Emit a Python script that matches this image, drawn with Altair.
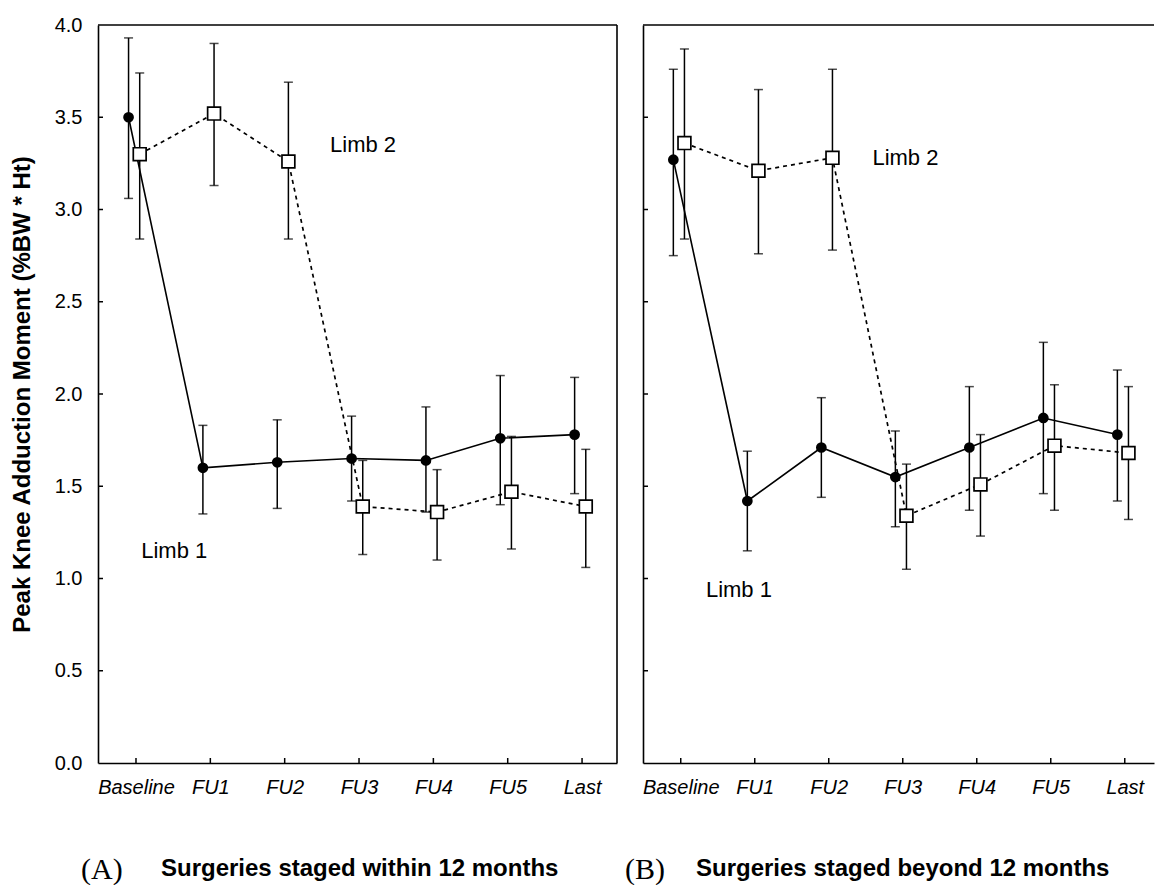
import altair as alt
import pandas as pd

categories = ["Baseline", "FU1", "FU2", "FU3", "FU4", "FU5", "Last"]

# Panel A: surgeries staged within 12 months
a_limb1_mean = [3.50, 1.60, 1.63, 1.65, 1.64, 1.76, 1.78]
a_limb1_low = [3.06, 1.35, 1.38, 1.42, 1.36, 1.40, 1.46]
a_limb1_high = [3.93, 1.83, 1.86, 1.88, 1.93, 2.10, 2.09]
a_limb2_mean = [3.30, 3.52, 3.26, 1.39, 1.36, 1.47, 1.39]
a_limb2_low = [2.84, 3.13, 2.84, 1.13, 1.10, 1.16, 1.06]
a_limb2_high = [3.74, 3.90, 3.69, 1.64, 1.59, 1.77, 1.70]

# Panel B: surgeries staged beyond 12 months
b_limb1_mean = [3.27, 1.42, 1.71, 1.55, 1.71, 1.87, 1.78]
b_limb1_low = [2.75, 1.15, 1.44, 1.28, 1.37, 1.46, 1.42]
b_limb1_high = [3.76, 1.69, 1.98, 1.80, 2.04, 2.28, 2.13]
b_limb2_mean = [3.36, 3.21, 3.28, 1.34, 1.51, 1.72, 1.68]
b_limb2_low = [2.84, 2.76, 2.78, 1.05, 1.23, 1.37, 1.32]
b_limb2_high = [3.87, 3.65, 3.76, 1.62, 1.78, 2.05, 2.04]

y_tick_values = [0.0, 0.5, 1.0, 1.5, 2.0, 2.5, 3.0, 3.5, 4.0]
inner_y_ticks = [0.5, 1.0, 1.5, 2.0, 2.5, 3.0, 3.5]
limb1_offset = -0.10
limb2_offset = 0.05

# annotation positions (x in category units, y in data units)
a_limb_labels = ["Limb 1", "Limb 2"]
a_limb_label_x = [0.07, 2.61]
a_limb_label_y = [1.15, 3.35]
b_limb_labels = ["Limb 1", "Limb 2"]
b_limb_label_x = [0.34, 2.59]
b_limb_label_y = [0.94, 3.28]

panel_letters = ["(A)", "(B)"]
panel_titles = ["Surgeries staged within 12 months", "Surgeries staged beyond 12 months"]

H = 738
SANS = "Liberation Sans"
label_expr = "[" + ",".join("'%s'" % c for c in categories) + "][datum.value]"


def make_panel(m1, l1, h1, m2, l2, h2, xdom, W, first, lab, lab_x, lab_y,
               letter, title, letter_dx, title_dx):
    rows = []
    for i in range(len(categories)):
        rows.append({"limb": "Limb 1", "x": i + limb1_offset, "mean": m1[i], "lo": l1[i], "hi": h1[i]})
    for i in range(len(categories)):
        rows.append({"limb": "Limb 2", "x": i + limb2_offset, "mean": m2[i], "lo": l2[i], "hi": h2[i]})
    df = pd.DataFrame(rows)

    xscale = alt.Scale(domain=xdom, nice=False, zero=False)
    yscale = alt.Scale(domain=[0, 4], nice=False, zero=True)
    xaxis = alt.Axis(values=list(range(len(categories))), labelExpr=label_expr, ticks=False,
                     grid=False, domain=True, domainColor="black", domainWidth=1.6,
                     labelFont=SANS, labelFontSize=20, labelFontStyle="italic",
                     labelColor="black", labelPadding=14, title=None)
    if first:
        yaxis = alt.Axis(values=y_tick_values, format=".1f", ticks=False, grid=False,
                         domain=True, domainColor="black", domainWidth=1.6,
                         labelFont=SANS, labelFontSize=20, labelColor="black",
                         labelPadding=16,
                         title="Peak Knee Adduction Moment (%BW * Ht)",
                         titleFont=SANS, titleFontSize=24, titleFontWeight="bold",
                         titleColor="black", titlePadding=20)
    else:
        yaxis = alt.Axis(values=y_tick_values, ticks=False, grid=False, labels=False,
                         domain=True, domainColor="black", domainWidth=1.6, title=None)

    base = alt.Chart(df)
    X = alt.X("x:Q", scale=xscale, axis=xaxis)

    rules = base.mark_rule(color="black", strokeWidth=1.5).encode(
        x=X, y=alt.Y("lo:Q", scale=yscale, axis=yaxis), y2="hi:Q")
    cap_lo = base.mark_tick(orient="horizontal", color="black", size=9, thickness=1.5).encode(
        x=X, y=alt.Y("lo:Q", scale=yscale, axis=yaxis))
    cap_hi = base.mark_tick(orient="horizontal", color="black", size=9, thickness=1.5).encode(
        x=X, y=alt.Y("hi:Q", scale=yscale, axis=yaxis))
    line1 = base.transform_filter(alt.datum.limb == "Limb 1").mark_line(
        color="black", strokeWidth=1.6).encode(x=X, y=alt.Y("mean:Q", scale=yscale, axis=yaxis))
    line2 = base.transform_filter(alt.datum.limb == "Limb 2").mark_line(
        color="black", strokeWidth=1.7, strokeDash=[4, 4]).encode(
        x=X, y=alt.Y("mean:Q", scale=yscale, axis=yaxis))
    pts1 = base.transform_filter(alt.datum.limb == "Limb 1").mark_point(
        shape="circle", filled=True, color="black", size=115, opacity=1).encode(
        x=X, y=alt.Y("mean:Q", scale=yscale, axis=yaxis))
    pts2 = base.transform_filter(alt.datum.limb == "Limb 2").mark_point(
        shape="square", filled=False, fill="white", fillOpacity=1, stroke="black",
        strokeWidth=1.7, size=165, opacity=1).encode(
        x=X, y=alt.Y("mean:Q", scale=yscale, axis=yaxis))

    lab_df = pd.DataFrame({"text": lab, "x": lab_x, "y": lab_y})
    labels = alt.Chart(lab_df).mark_text(font=SANS, fontSize=22, align="left",
                                         baseline="middle", color="black").encode(
        x=alt.X("x:Q", scale=xscale, axis=xaxis),
        y=alt.Y("y:Q", scale=yscale, axis=yaxis), text="text:N")

    yt = alt.Chart(pd.DataFrame({"t": inner_y_ticks})).mark_rule(
        color="black", strokeWidth=1.5).encode(
        y=alt.Y("t:Q", scale=yscale, axis=yaxis), x=alt.value(0), x2=alt.value(5))
    xt = alt.Chart(pd.DataFrame({"t": list(range(len(categories)))})).mark_rule(
        color="black", strokeWidth=1.5).encode(
        x=alt.X("t:Q", scale=xscale, axis=xaxis), y=alt.value(H), y2=alt.value(H - 5))

    top = alt.Chart(pd.DataFrame({"k": [0]})).mark_rule(color="black", strokeWidth=1.6).encode(
        x=alt.value(0), x2=alt.value(W), y=alt.value(0))
    layers = [rules, cap_lo, cap_hi, line1, line2, pts1, pts2, labels, yt, xt, top]
    if first:
        right = alt.Chart(pd.DataFrame({"k": [0]})).mark_rule(color="black", strokeWidth=1.6).encode(
            x=alt.value(W), y=alt.value(0), y2=alt.value(H))
        layers.append(right)

    t_df = pd.DataFrame({"letter": [letter], "title": [title]})
    let_txt = alt.Chart(t_df).mark_text(font="Liberation Serif", fontSize=30, align="left",
                                        baseline="middle", color="black").encode(
        x=alt.value(letter_dx), y=alt.value(H + 107), text="letter:N")
    tit_txt = alt.Chart(t_df).mark_text(font=SANS, fontSize=24, fontWeight="bold", align="left",
                                        baseline="middle", color="black").encode(
        x=alt.value(title_dx), y=alt.value(H + 106), text="title:N")
    layers += [let_txt, tit_txt]

    return alt.layer(*layers).properties(width=W, height=H)


left = make_panel(a_limb1_mean, a_limb1_low, a_limb1_high,
                  a_limb2_mean, a_limb2_low, a_limb2_high,
                  [-0.511, 6.47], 519, True, a_limb_labels, a_limb_label_x, a_limb_label_y,
                  panel_letters[0], panel_titles[0], -17, 63)
right = make_panel(b_limb1_mean, b_limb1_low, b_limb1_high,
                   b_limb2_mean, b_limb2_low, b_limb2_high,
                   [-0.51, 6.395], 511, False, b_limb_labels, b_limb_label_x, b_limb_label_y,
                   panel_letters[1], panel_titles[1], -18, 53)

chart = alt.hconcat(left, right, spacing=26, bounds="flush").properties(
    padding={"left": 10, "top": 15, "right": 0, "bottom": 0},
    background="white",
).configure_view(stroke=None)

chart.save("out.html", embed_options={"renderer": "svg", "actions": False})
